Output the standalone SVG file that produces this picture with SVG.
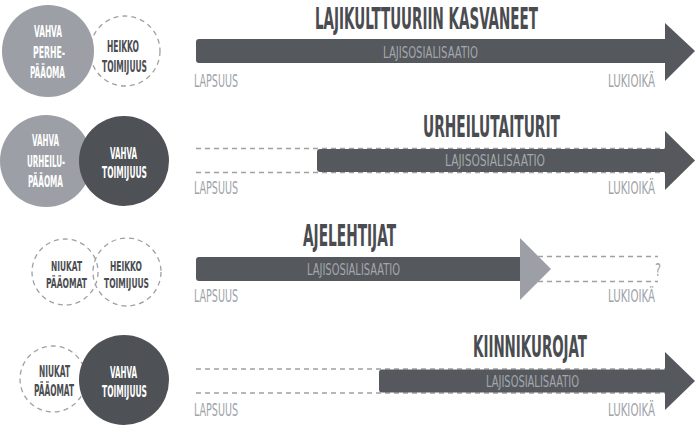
<svg xmlns="http://www.w3.org/2000/svg" width="695" height="426" viewBox="0 0 695 426">
<style>
text{font-family:"DejaVu Sans Condensed","DejaVu Sans","Liberation Sans",sans-serif;font-stretch:condensed;}
.t{font-size:30px;font-weight:bold;fill:#4a4c50;}
.s{font-size:16.5px;fill:#a4a7ac;}
.e{font-size:17px;fill:#a0a3a9;}
.cw{font-size:15.5px;font-weight:bold;fill:#ffffff;}
.cd{font-size:15.5px;font-weight:bold;fill:#4a4c50;}
.c3{font-size:14px;}
.bar{fill:#55585d;}
.head{fill:#55585d;}
.lhead{fill:#9c9fa5;}
.dash{stroke:#a0a0a0;stroke-width:1.3;stroke-dasharray:5 4;fill:none;}
.dc{stroke:#a0a0a0;stroke-width:1.3;stroke-dasharray:5 4;fill:#ffffff;}
.dn{stroke:#a0a0a0;stroke-width:1.3;stroke-dasharray:5 4;fill:none;}
.gc{fill:#9c9fa5;}
.dk{fill:#4e5156;}
</style>

<g id="connectors">
  <g id="arrow1">
    <rect class="bar" x="196" y="39" width="472" height="24" rx="3"/>
    <polygon class="head" points="665,23 695,51 665,81"/>
  </g>
  <g id="arrow2">
    <line class="dash" x1="196" y1="148.5" x2="665" y2="148.5"/>
    <line class="dash" x1="196" y1="172.5" x2="665" y2="172.5"/>
    <rect class="bar" x="317" y="149" width="351" height="23" rx="3"/>
    <polygon class="head" points="665,131 695,160.5 665,190"/>
  </g>
  <g id="arrow3">
    <line class="dash" x1="520" y1="256.5" x2="658" y2="256.5"/>
    <line class="dash" x1="520" y1="281.5" x2="658" y2="281.5"/>
    <rect class="bar" x="196" y="257" width="327" height="24" rx="3"/>
    <polygon class="lhead" points="520,238 551,269 520,300"/>
  </g>
  <g id="arrow4">
    <line class="dash" x1="196" y1="369" x2="665" y2="369"/>
    <line class="dash" x1="196" y1="393" x2="665" y2="393"/>
    <rect class="bar" x="379" y="369.5" width="289" height="23" rx="3"/>
    <polygon class="head" points="665,352 695,381 665,410"/>
  </g>
</g>

<g id="labels">
  <text class="t" x="315" y="28.5" textLength="223" lengthAdjust="spacingAndGlyphs">LAJIKULTTUURIIN KASVANEET</text>
  <text class="s" x="383" y="57.5" textLength="95" lengthAdjust="spacingAndGlyphs">LAJISOSIALISAATIO</text>
  <text class="e" x="194" y="87" textLength="44" lengthAdjust="spacingAndGlyphs">LAPSUUS</text>
  <text class="e" x="608" y="87" textLength="47" lengthAdjust="spacingAndGlyphs">LUKIOIKÄ</text>

  <text class="t" x="423" y="137" textLength="137" lengthAdjust="spacingAndGlyphs">URHEILUTAITURIT</text>
  <text class="s" x="445" y="166" textLength="100" lengthAdjust="spacingAndGlyphs">LAJISOSIALISAATIO</text>
  <text class="e" x="194" y="194" textLength="44" lengthAdjust="spacingAndGlyphs">LAPSUUS</text>
  <text class="e" x="608" y="194" textLength="47" lengthAdjust="spacingAndGlyphs">LUKIOIKÄ</text>

  <text class="t" x="303" y="246" textLength="93" lengthAdjust="spacingAndGlyphs">AJELEHTIJAT</text>
  <text class="s" x="307" y="275" textLength="93" lengthAdjust="spacingAndGlyphs">LAJISOSIALISAATIO</text>
  <text class="e" x="194" y="301.5" textLength="44" lengthAdjust="spacingAndGlyphs">LAPSUUS</text>
  <text class="e" x="608" y="301.5" textLength="47" lengthAdjust="spacingAndGlyphs">LUKIOIKÄ</text>
  <text class="e" x="655" y="276" textLength="6" lengthAdjust="spacingAndGlyphs">?</text>

  <text class="t" x="473" y="357" textLength="114" lengthAdjust="spacingAndGlyphs">KIINNIKUROJAT</text>
  <text class="s" x="486" y="386.5" textLength="93" lengthAdjust="spacingAndGlyphs">LAJISOSIALISAATIO</text>
  <text class="e" x="194" y="416" textLength="44" lengthAdjust="spacingAndGlyphs">LAPSUUS</text>
  <text class="e" x="608" y="416" textLength="47" lengthAdjust="spacingAndGlyphs">LUKIOIKÄ</text>
</g>

<g id="node-heikko-1">
  <circle class="dc" cx="125" cy="51" r="35"/>
  <text class="cd" x="107" y="52" textLength="32" lengthAdjust="spacingAndGlyphs">HEIKKO</text>
  <text class="cd" x="102" y="72" textLength="45" lengthAdjust="spacingAndGlyphs">TOIMIJUUS</text>
</g>
<g id="node-perhe">
  <circle class="gc" cx="48" cy="51" r="46"/>
  <text class="cw" x="34" y="37" textLength="28" lengthAdjust="spacingAndGlyphs">VAHVA</text>
  <text class="cw" x="33" y="58" textLength="32" lengthAdjust="spacingAndGlyphs">PERHE-</text>
  <text class="cw" x="30" y="78" textLength="35" lengthAdjust="spacingAndGlyphs">PÄÄOMA</text>
</g>

<g id="node-urheilu">
  <circle class="gc" cx="46" cy="161" r="46"/>
  <text class="cw" x="32" y="146" textLength="27" lengthAdjust="spacingAndGlyphs">VAHVA</text>
  <text class="cw" x="27" y="167" textLength="38" lengthAdjust="spacingAndGlyphs">URHEILU-</text>
  <text class="cw" x="28" y="187" textLength="35" lengthAdjust="spacingAndGlyphs">PÄÄOMA</text>
</g>
<g id="node-vahva-2">
  <circle class="dk" cx="124" cy="161" r="45"/>
  <text class="cw" x="110" y="159" textLength="27" lengthAdjust="spacingAndGlyphs">VAHVA</text>
  <text class="cw" x="102" y="178" textLength="45" lengthAdjust="spacingAndGlyphs">TOIMIJUUS</text>
</g>

<g id="node-niukat-3">
  <circle class="dn" cx="65" cy="272" r="33"/>
  <text class="cd c3" x="51" y="270.5" textLength="31" lengthAdjust="spacingAndGlyphs">NIUKAT</text>
  <text class="cd c3" x="46" y="288" textLength="41" lengthAdjust="spacingAndGlyphs">PÄÄOMAT</text>
</g>
<g id="node-heikko-3">
  <circle class="dn" cx="127" cy="272" r="34"/>
  <text class="cd c3" x="110" y="270.5" textLength="32" lengthAdjust="spacingAndGlyphs">HEIKKO</text>
  <text class="cd c3" x="104" y="288" textLength="45" lengthAdjust="spacingAndGlyphs">TOIMIJUUS</text>
</g>

<g id="node-niukat-4">
  <circle class="dc" cx="53" cy="379" r="33"/>
  <text class="cd" x="39" y="377" textLength="31" lengthAdjust="spacingAndGlyphs">NIUKAT</text>
  <text class="cd" x="34" y="395.5" textLength="40" lengthAdjust="spacingAndGlyphs">PÄÄOMAT</text>
</g>
<g id="node-vahva-4">
  <circle class="dk" cx="124" cy="380" r="45"/>
  <text class="cw" x="110" y="377.5" textLength="27" lengthAdjust="spacingAndGlyphs">VAHVA</text>
  <text class="cw" x="102" y="396.5" textLength="45" lengthAdjust="spacingAndGlyphs">TOIMIJUUS</text>
</g>
</svg>
